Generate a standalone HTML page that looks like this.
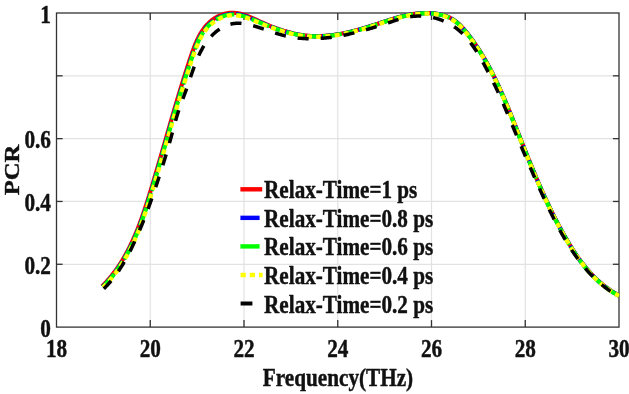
<!DOCTYPE html>
<html><head><meta charset="utf-8"><style>
html,body{margin:0;padding:0;background:#fff;}
body{width:629px;height:394px;overflow:hidden;}
svg{display:block;will-change:transform;}
text{font-family:"Liberation Serif",serif;font-weight:bold;fill:#111;stroke:#111;stroke-width:0.45px;stroke-linejoin:round;}
</style></head><body>
<svg width="629" height="394" viewBox="0 0 629 394">
<rect width="629" height="394" fill="#fff"/>
<line x1="150.25" y1="13.0" x2="150.25" y2="327.1" stroke="#e2e2e2" stroke-width="1.2"/><line x1="244.00" y1="13.0" x2="244.00" y2="327.1" stroke="#e2e2e2" stroke-width="1.2"/><line x1="337.75" y1="13.0" x2="337.75" y2="327.1" stroke="#e2e2e2" stroke-width="1.2"/><line x1="431.50" y1="13.0" x2="431.50" y2="327.1" stroke="#e2e2e2" stroke-width="1.2"/><line x1="525.25" y1="13.0" x2="525.25" y2="327.1" stroke="#e2e2e2" stroke-width="1.2"/><line x1="56.5" y1="264.28" x2="619.0" y2="264.28" stroke="#e2e2e2" stroke-width="1.2"/><line x1="56.5" y1="201.46" x2="619.0" y2="201.46" stroke="#e2e2e2" stroke-width="1.2"/><line x1="56.5" y1="138.64" x2="619.0" y2="138.64" stroke="#e2e2e2" stroke-width="1.2"/><line x1="56.5" y1="75.82" x2="619.0" y2="75.82" stroke="#e2e2e2" stroke-width="1.2"/>
<line x1="240.4" y1="189.30" x2="262.2" y2="189.30" stroke="#ff0000" stroke-width="4.4"/><text transform="translate(264.10,198.30) scale(0.86,1)" text-anchor="start" font-size="24.6" fill="#000">Relax-Time=1 ps</text><line x1="240.4" y1="217.85" x2="259.6" y2="217.85" stroke="#0000ff" stroke-width="4.4"/><text transform="translate(264.10,226.85) scale(0.86,1)" text-anchor="start" font-size="24.6" fill="#000">Relax-Time=0.8 ps</text><line x1="240.4" y1="246.40" x2="259.6" y2="246.40" stroke="#00ff00" stroke-width="4.4"/><text transform="translate(264.10,255.40) scale(0.86,1)" text-anchor="start" font-size="24.6" fill="#000">Relax-Time=0.6 ps</text><line x1="240.6" y1="274.95" x2="262.6" y2="274.95" stroke="#ffff00" stroke-width="4.4" stroke-dasharray="5.2 4"/><text transform="translate(264.10,283.95) scale(0.86,1)" text-anchor="start" font-size="24.6" fill="#000">Relax-Time=0.4 ps</text><line x1="240.6" y1="303.50" x2="252.4" y2="303.50" stroke="#000000" stroke-width="4"/><text transform="translate(264.10,312.50) scale(0.86,1)" text-anchor="start" font-size="24.6" fill="#000">Relax-Time=0.2 ps</text>
<clipPath id="c"><rect x="56.5" y="0" width="563.1" height="327.1"/></clipPath>
<rect x="56.5" y="13.0" width="562.5" height="314.1" fill="none" stroke="#333" stroke-width="1.3"/><line x1="150.25" y1="327.1" x2="150.25" y2="320.1" stroke="#333" stroke-width="1.3"/><line x1="150.25" y1="13.0" x2="150.25" y2="20.0" stroke="#333" stroke-width="1.3"/><line x1="244.00" y1="327.1" x2="244.00" y2="320.1" stroke="#333" stroke-width="1.3"/><line x1="244.00" y1="13.0" x2="244.00" y2="20.0" stroke="#333" stroke-width="1.3"/><line x1="337.75" y1="327.1" x2="337.75" y2="320.1" stroke="#333" stroke-width="1.3"/><line x1="337.75" y1="13.0" x2="337.75" y2="20.0" stroke="#333" stroke-width="1.3"/><line x1="431.50" y1="327.1" x2="431.50" y2="320.1" stroke="#333" stroke-width="1.3"/><line x1="431.50" y1="13.0" x2="431.50" y2="20.0" stroke="#333" stroke-width="1.3"/><line x1="525.25" y1="327.1" x2="525.25" y2="320.1" stroke="#333" stroke-width="1.3"/><line x1="525.25" y1="13.0" x2="525.25" y2="20.0" stroke="#333" stroke-width="1.3"/><line x1="56.5" y1="264.28" x2="62.6" y2="264.28" stroke="#333" stroke-width="1.3"/><line x1="619.0" y1="264.28" x2="612.9" y2="264.28" stroke="#333" stroke-width="1.3"/><line x1="56.5" y1="201.46" x2="62.6" y2="201.46" stroke="#333" stroke-width="1.3"/><line x1="619.0" y1="201.46" x2="612.9" y2="201.46" stroke="#333" stroke-width="1.3"/><line x1="56.5" y1="138.64" x2="62.6" y2="138.64" stroke="#333" stroke-width="1.3"/><line x1="619.0" y1="138.64" x2="612.9" y2="138.64" stroke="#333" stroke-width="1.3"/><line x1="56.5" y1="75.82" x2="62.6" y2="75.82" stroke="#333" stroke-width="1.3"/><line x1="619.0" y1="75.82" x2="612.9" y2="75.82" stroke="#333" stroke-width="1.3"/>
<g clip-path="url(#c)">
<path d="M102.11,286.31 L102.99,285.42 L103.85,284.53 L104.71,283.64 L105.55,282.74 L106.38,281.83 L107.20,280.91 L108.02,279.99 L108.82,279.06 L109.61,278.12 L110.40,277.18 L111.17,276.23 L111.94,275.27 L112.69,274.31 L113.44,273.34 L114.18,272.37 L114.90,271.39 L115.62,270.40 L116.33,269.41 L117.04,268.41 L117.73,267.41 L118.42,266.40 L119.09,265.38 L119.76,264.36 L120.42,263.34 L121.08,262.30 L121.72,261.27 L122.36,260.23 L122.99,259.18 L123.61,258.13 L124.22,257.07 L124.83,256.01 L125.43,254.94 L126.02,253.87 L126.61,252.80 L127.19,251.72 L127.76,250.63 L128.33,249.54 L128.88,248.45 L129.44,247.35 L129.98,246.25 L130.52,245.15 L131.06,244.04 L131.58,242.93 L132.10,241.81 L132.62,240.69 L133.13,239.57 L133.63,238.44 L134.13,237.31 L134.63,236.18 L135.11,235.04 L135.60,233.90 L136.07,232.76 L136.55,231.61 L137.01,230.46 L137.48,229.31 L137.93,228.16 L138.39,227.00 L138.84,225.84 L139.28,224.68 L139.72,223.52 L140.16,222.35 L140.59,221.18 L141.02,220.01 L141.44,218.84 L141.86,217.66 L142.28,216.49 L142.69,215.31 L143.10,214.13 L143.51,212.95 L143.91,211.77 L144.31,210.58 L144.71,209.40 L145.10,208.21 L145.49,207.02 L145.88,205.83 L146.27,204.64 L146.65,203.45 L147.03,202.26 L147.41,201.07 L147.79,199.88 L148.16,198.68 L148.54,197.49 L148.91,196.30 L149.28,195.10 L149.64,193.91 L150.01,192.71 L150.37,191.52 L150.74,190.33 L151.10,189.13 L151.46,187.94 L151.82,186.74 L152.18,185.55 L152.54,184.36 L152.90,183.17 L153.25,181.97 L153.61,180.78 L153.96,179.59 L154.32,178.40 L154.67,177.21 L155.02,176.02 L155.38,174.83 L155.73,173.64 L156.08,172.45 L156.43,171.26 L156.78,170.08 L157.12,168.89 L157.47,167.70 L157.82,166.51 L158.17,165.33 L158.51,164.14 L158.86,162.95 L159.21,161.77 L159.55,160.58 L159.90,159.39 L160.24,158.21 L160.58,157.02 L160.93,155.84 L161.27,154.65 L161.61,153.47 L161.96,152.28 L162.30,151.10 L162.64,149.92 L162.99,148.73 L163.33,147.55 L163.67,146.36 L164.01,145.18 L164.35,144.00 L164.70,142.81 L165.04,141.63 L165.38,140.45 L165.72,139.26 L166.07,138.08 L166.41,136.90 L166.75,135.71 L167.09,134.53 L167.44,133.35 L167.78,132.16 L168.12,130.98 L168.47,129.80 L168.81,128.61 L169.15,127.43 L169.49,126.24 L169.83,125.06 L170.17,123.88 L170.52,122.69 L170.86,121.51 L171.20,120.32 L171.54,119.13 L171.89,117.95 L172.23,116.76 L172.58,115.58 L172.92,114.39 L173.27,113.21 L173.61,112.02 L173.96,110.83 L174.31,109.65 L174.66,108.46 L175.00,107.27 L175.35,106.09 L175.71,104.90 L176.06,103.71 L176.41,102.52 L176.76,101.34 L177.12,100.15 L177.47,98.96 L177.83,97.77 L178.18,96.58 L178.54,95.39 L178.90,94.20 L179.26,93.01 L179.62,91.82 L179.98,90.63 L180.35,89.43 L180.71,88.24 L181.08,87.05 L181.44,85.86 L181.81,84.66 L182.18,83.47 L182.55,82.28 L182.92,81.08 L183.30,79.89 L183.67,78.69 L184.05,77.49 L184.42,76.30 L184.80,75.10 L185.18,73.90 L185.56,72.70 L185.95,71.51 L186.33,70.31 L186.72,69.11 L187.10,67.91 L187.49,66.70 L187.88,65.50 L188.28,64.30 L188.67,63.10 L189.07,61.89 L189.46,60.69 L189.86,59.49 L190.26,58.28 L190.67,57.07 L191.07,55.87 L191.48,54.66 L191.89,53.45 L192.31,52.24 L192.74,51.04 L193.17,49.83 L193.61,48.63 L194.06,47.43 L194.51,46.24 L194.98,45.06 L195.47,43.88 L195.96,42.70 L196.47,41.54 L196.99,40.38 L197.53,39.23 L198.08,38.09 L198.66,36.97 L199.24,35.85 L199.85,34.74 L200.47,33.65 L201.12,32.57 L201.79,31.50 L202.48,30.45 L203.20,29.42 L203.95,28.40 L204.72,27.40 L205.52,26.42 L206.35,25.46 L207.21,24.52 L208.10,23.61 L209.02,22.71 L209.98,21.84 L210.95,21.00 L211.96,20.18 L212.99,19.40 L214.05,18.64 L215.15,17.96 L216.28,17.30 L217.42,16.69 L218.57,16.11 L219.75,15.58 L220.94,15.09 L222.14,14.64 L223.35,14.24 L224.57,13.88 L225.81,13.57 L227.05,13.32 L228.29,13.11 L229.54,12.96 L230.80,12.87 L232.05,12.83 L233.29,12.84 L234.53,12.90 L235.77,13.01 L237.00,13.16 L238.23,13.35 L239.46,13.58 L240.68,13.85 L241.89,14.17 L243.10,14.53 L244.30,14.91 L245.49,15.32 L246.69,15.75 L247.88,16.20 L249.06,16.67 L250.24,17.15 L251.42,17.65 L252.60,18.17 L253.77,18.69 L254.94,19.21 L256.11,19.75 L257.28,20.28 L258.44,20.82 L259.61,21.35 L260.77,21.88 L261.93,22.41 L263.09,22.93 L264.25,23.44 L265.41,23.96 L266.57,24.46 L267.73,24.96 L268.89,25.45 L270.05,25.94 L271.21,26.40 L272.38,26.85 L273.55,27.29 L274.72,27.73 L275.89,28.16 L277.06,28.58 L278.23,28.99 L279.40,29.39 L280.57,29.79 L281.74,30.17 L282.92,30.55 L284.09,30.92 L285.26,31.28 L286.44,31.62 L287.61,31.96 L288.79,32.29 L289.97,32.61 L291.15,32.91 L292.33,33.21 L293.51,33.49 L294.70,33.76 L295.88,34.02 L297.07,34.27 L298.26,34.51 L299.45,34.73 L300.64,34.93 L301.83,35.11 L303.03,35.28 L304.23,35.44 L305.43,35.58 L306.63,35.71 L307.84,35.82 L309.05,35.92 L310.26,36.00 L311.47,36.07 L312.68,36.12 L313.89,36.16 L315.11,36.18 L316.33,36.19 L317.55,36.19 L318.77,36.17 L319.99,36.14 L321.22,36.09 L322.44,36.04 L323.67,35.97 L324.90,35.88 L326.13,35.79 L327.36,35.68 L328.59,35.56 L329.82,35.43 L331.05,35.29 L332.29,35.14 L333.52,34.97 L334.75,34.80 L335.99,34.62 L337.22,34.42 L338.45,34.22 L339.69,34.00 L340.92,33.78 L342.15,33.55 L343.39,33.31 L344.62,33.06 L345.85,32.80 L347.08,32.53 L348.31,32.26 L349.54,31.97 L350.77,31.68 L352.00,31.39 L353.22,31.08 L354.45,30.77 L355.67,30.45 L356.90,30.13 L358.12,29.80 L359.34,29.46 L360.55,29.12 L361.77,28.77 L362.98,28.42 L364.19,28.06 L365.40,27.70 L366.61,27.34 L367.82,26.97 L369.02,26.59 L370.22,26.21 L371.42,25.83 L372.61,25.45 L373.81,25.06 L375.00,24.67 L376.19,24.28 L377.37,23.89 L378.56,23.50 L379.75,23.10 L380.93,22.71 L382.11,22.32 L383.30,21.93 L384.48,21.54 L385.66,21.16 L386.84,20.78 L388.02,20.40 L389.20,20.02 L390.38,19.65 L391.56,19.29 L392.74,18.93 L393.93,18.57 L395.11,18.23 L396.29,17.89 L397.48,17.55 L398.66,17.23 L399.85,16.91 L401.04,16.60 L402.23,16.30 L403.43,16.01 L404.62,15.73 L405.82,15.46 L407.02,15.21 L408.23,14.96 L409.43,14.73 L410.64,14.51 L411.85,14.30 L413.07,14.11 L414.29,13.93 L415.51,13.77 L416.74,13.62 L417.97,13.48 L419.20,13.37 L420.44,13.27 L421.69,13.19 L422.94,13.12 L424.19,13.07 L425.45,13.05 L426.71,13.04 L427.98,13.05 L429.24,13.08 L430.51,13.14 L431.78,13.21 L433.05,13.32 L434.31,13.44 L435.57,13.59 L436.82,13.77 L438.07,13.97 L439.30,14.21 L440.53,14.47 L441.75,14.76 L442.95,15.08 L444.14,15.43 L445.32,15.82 L446.47,16.24 L447.61,16.69 L448.73,17.18 L449.83,17.70 L450.91,18.26 L451.97,18.86 L453.00,19.49 L454.01,20.16 L455.00,20.86 L455.97,21.58 L456.92,22.34 L457.85,23.13 L458.76,23.94 L459.66,24.77 L460.54,25.62 L461.40,26.50 L462.25,27.39 L463.08,28.31 L463.91,29.23 L464.72,30.17 L465.52,31.12 L466.31,32.09 L467.09,33.06 L467.86,34.04 L468.62,35.02 L469.38,36.01 L470.13,37.00 L470.87,38.00 L471.61,39.00 L472.34,40.00 L473.06,41.01 L473.78,42.02 L474.49,43.03 L475.20,44.05 L475.90,45.08 L476.59,46.10 L477.28,47.13 L477.96,48.17 L478.63,49.20 L479.30,50.25 L479.97,51.29 L480.62,52.34 L481.28,53.39 L481.92,54.44 L482.57,55.50 L483.20,56.56 L483.83,57.62 L484.46,58.69 L485.08,59.76 L485.70,60.83 L486.31,61.91 L486.91,62.98 L487.52,64.06 L488.11,65.15 L488.71,66.23 L489.29,67.32 L489.88,68.42 L490.46,69.51 L491.03,70.61 L491.60,71.71 L492.17,72.81 L492.73,73.91 L493.29,75.02 L493.84,76.13 L494.39,77.24 L494.94,78.35 L495.48,79.46 L496.02,80.58 L496.56,81.70 L497.09,82.82 L497.62,83.94 L498.15,85.07 L498.67,86.19 L499.19,87.32 L499.71,88.45 L500.22,89.58 L500.73,90.72 L501.24,91.85 L501.75,92.99 L502.25,94.13 L502.75,95.26 L503.25,96.40 L503.74,97.55 L504.24,98.69 L504.73,99.83 L505.22,100.98 L505.70,102.13 L506.19,103.27 L506.67,104.42 L507.15,105.57 L507.63,106.72 L508.10,107.87 L508.58,109.03 L509.05,110.18 L509.52,111.33 L509.99,112.49 L510.46,113.64 L510.93,114.80 L511.40,115.95 L511.86,117.11 L512.33,118.27 L512.79,119.42 L513.26,120.58 L513.72,121.74 L514.18,122.90 L514.64,124.05 L515.10,125.21 L515.56,126.37 L516.02,127.53 L516.48,128.69 L516.93,129.85 L517.39,131.00 L517.85,132.16 L518.31,133.32 L518.77,134.48 L519.22,135.63 L519.68,136.79 L520.14,137.95 L520.60,139.11 L521.06,140.26 L521.51,141.42 L521.97,142.57 L522.43,143.73 L522.89,144.89 L523.35,146.04 L523.81,147.20 L524.27,148.35 L524.73,149.50 L525.19,150.66 L525.65,151.81 L526.11,152.96 L526.58,154.12 L527.04,155.27 L527.50,156.42 L527.97,157.57 L528.43,158.72 L528.90,159.87 L529.37,161.02 L529.84,162.17 L530.31,163.32 L530.78,164.47 L531.25,165.61 L531.72,166.76 L532.19,167.91 L532.67,169.05 L533.14,170.20 L533.62,171.34 L534.09,172.48 L534.57,173.63 L535.05,174.77 L535.54,175.91 L536.02,177.05 L536.50,178.19 L536.99,179.33 L537.48,180.47 L537.97,181.61 L538.46,182.74 L538.95,183.88 L539.44,185.01 L539.94,186.15 L540.44,187.28 L540.94,188.41 L541.44,189.55 L541.94,190.68 L542.44,191.81 L542.95,192.94 L543.46,194.06 L543.97,195.19 L544.48,196.32 L545.00,197.44 L545.51,198.57 L546.03,199.69 L546.55,200.81 L547.08,201.93 L547.60,203.05 L548.13,204.17 L548.66,205.29 L549.20,206.41 L549.73,207.52 L550.27,208.64 L550.81,209.75 L551.35,210.86 L551.90,211.97 L552.45,213.08 L553.00,214.19 L553.55,215.30 L554.11,216.41 L554.67,217.51 L555.23,218.62 L555.79,219.72 L556.36,220.82 L556.93,221.92 L557.51,223.02 L558.08,224.12 L558.66,225.21 L559.25,226.31 L559.83,227.40 L560.42,228.49 L561.01,229.58 L561.61,230.67 L562.21,231.76 L562.81,232.84 L563.42,233.93 L564.03,235.01 L564.64,236.09 L565.26,237.17 L565.88,238.25 L566.50,239.33 L567.13,240.40 L567.76,241.47 L568.40,242.54 L569.04,243.61 L569.68,244.67 L570.33,245.73 L570.99,246.79 L571.65,247.84 L572.31,248.89 L572.98,249.94 L573.65,250.98 L574.33,252.02 L575.02,253.05 L575.71,254.08 L576.41,255.11 L577.11,256.13 L577.82,257.14 L578.53,258.15 L579.26,259.16 L579.98,260.15 L580.72,261.15 L581.46,262.14 L582.21,263.12 L582.96,264.09 L583.72,265.06 L584.49,266.03 L585.27,266.98 L586.05,267.93 L586.84,268.88 L587.64,269.81 L588.45,270.74 L589.26,271.66 L590.08,272.57 L590.91,273.48 L591.75,274.38 L592.60,275.27 L593.46,276.15 L594.32,277.02 L595.19,277.88 L596.08,278.74 L596.97,279.58 L597.87,280.42 L598.78,281.25 L599.70,282.07 L600.63,282.87 L601.57,283.67 L602.52,284.46 L603.48,285.24 L604.44,286.01 L605.42,286.76 L606.41,287.51 L607.41,288.24 L608.42,288.97 L609.44,289.68 L610.48,290.38 L611.52,291.08 L612.57,291.75 L613.64,292.42 L614.72,293.08 L615.81,293.72 L616.91,294.35 L618.02,294.97 L619.14,295.57" fill="none" stroke="#ff0000" stroke-width="4.2" stroke-linejoin="round"/>
<path d="M102.61,286.80 L103.49,285.92 L104.36,285.02 L105.22,284.12 L106.07,283.21 L106.90,282.30 L107.73,281.38 L108.55,280.45 L109.36,279.52 L110.15,278.58 L110.94,277.63 L111.72,276.67 L112.49,275.71 L113.25,274.75 L114.00,273.77 L114.74,272.79 L115.47,271.81 L116.20,270.82 L116.91,269.82 L117.62,268.82 L118.31,267.81 L119.00,266.79 L119.68,265.77 L120.36,264.75 L121.02,263.72 L121.68,262.68 L122.32,261.64 L122.96,260.59 L123.60,259.54 L124.22,258.49 L124.84,257.43 L125.45,256.36 L126.05,255.29 L126.65,254.22 L127.24,253.14 L127.82,252.05 L128.39,250.96 L128.96,249.87 L129.52,248.77 L130.07,247.67 L130.62,246.57 L131.16,245.46 L131.70,244.35 L132.23,243.23 L132.75,242.11 L133.27,240.99 L133.78,239.86 L134.29,238.73 L134.79,237.60 L135.28,236.46 L135.77,235.32 L136.26,234.18 L136.73,233.03 L137.21,231.88 L137.68,230.73 L138.14,229.58 L138.60,228.42 L139.05,227.26 L139.50,226.10 L139.95,224.93 L140.39,223.77 L140.83,222.60 L141.26,221.43 L141.69,220.26 L142.12,219.08 L142.54,217.90 L142.96,216.73 L143.37,215.55 L143.78,214.36 L144.19,213.18 L144.59,212.00 L144.99,210.81 L145.39,209.62 L145.78,208.44 L146.18,207.25 L146.57,206.06 L146.95,204.87 L147.34,203.67 L147.72,202.48 L148.10,201.29 L148.48,200.09 L148.85,198.90 L149.22,197.71 L149.60,196.51 L149.97,195.32 L150.33,194.12 L150.70,192.93 L151.07,191.73 L151.43,190.54 L151.79,189.34 L152.15,188.15 L152.51,186.95 L152.87,185.76 L153.23,184.57 L153.59,183.37 L153.95,182.18 L154.30,180.99 L154.66,179.80 L155.01,178.61 L155.36,177.42 L155.72,176.23 L156.07,175.04 L156.42,173.85 L156.77,172.66 L157.12,171.47 L157.47,170.28 L157.82,169.09 L158.17,167.90 L158.52,166.72 L158.86,165.53 L159.21,164.34 L159.56,163.16 L159.90,161.97 L160.25,160.78 L160.59,159.60 L160.94,158.41 L161.28,157.23 L161.63,156.04 L161.97,154.86 L162.31,153.67 L162.66,152.49 L163.00,151.30 L163.34,150.12 L163.68,148.93 L164.03,147.75 L164.37,146.57 L164.71,145.38 L165.05,144.20 L165.40,143.02 L165.74,141.83 L166.08,140.65 L166.42,139.47 L166.77,138.28 L167.11,137.10 L167.45,135.92 L167.79,134.73 L168.14,133.55 L168.48,132.37 L168.82,131.18 L169.17,130.00 L169.51,128.82 L169.85,127.63 L170.20,126.45 L170.54,125.27 L170.89,124.08 L171.23,122.90 L171.58,121.72 L171.93,120.53 L172.27,119.35 L172.62,118.17 L172.97,116.98 L173.32,115.80 L173.67,114.61 L174.02,113.43 L174.37,112.24 L174.72,111.06 L175.07,109.87 L175.42,108.69 L175.78,107.50 L176.13,106.32 L176.49,105.13 L176.84,103.95 L177.20,102.76 L177.55,101.57 L177.91,100.39 L178.27,99.20 L178.63,98.01 L178.99,96.83 L179.36,95.64 L179.72,94.45 L180.08,93.26 L180.45,92.07 L180.81,90.88 L181.18,89.69 L181.55,88.50 L181.92,87.31 L182.29,86.12 L182.66,84.93 L183.04,83.74 L183.41,82.55 L183.79,81.35 L184.16,80.16 L184.54,78.97 L184.92,77.77 L185.30,76.58 L185.69,75.38 L186.07,74.19 L186.46,72.99 L186.84,71.80 L187.23,70.60 L187.62,69.40 L188.01,68.20 L188.41,67.01 L188.80,65.81 L189.20,64.61 L189.60,63.41 L190.00,62.21 L190.40,61.00 L190.80,59.80 L191.21,58.60 L191.62,57.40 L192.02,56.19 L192.44,54.99 L192.85,53.78 L193.28,52.58 L193.70,51.38 L194.14,50.19 L194.58,49.00 L195.03,47.81 L195.49,46.63 L195.96,45.45 L196.44,44.29 L196.94,43.13 L197.45,41.98 L197.97,40.84 L198.51,39.71 L199.06,38.59 L199.63,37.48 L200.22,36.39 L200.82,35.30 L201.45,34.24 L202.09,33.19 L202.76,32.15 L203.45,31.13 L204.17,30.13 L204.91,29.15 L205.67,28.19 L206.46,27.24 L207.28,26.32 L208.13,25.42 L209.01,24.54 L209.91,23.69 L210.85,22.86 L211.81,22.06 L212.79,21.29 L213.80,20.54 L214.84,19.83 L215.89,19.15 L216.97,18.51 L218.06,17.90 L219.17,17.33 L220.29,16.80 L221.43,16.30 L222.58,15.85 L223.74,15.45 L224.91,15.09 L226.09,14.77 L227.28,14.51 L228.48,14.29 L229.67,14.13 L230.87,14.02 L232.07,13.96 L233.27,13.95 L234.47,13.99 L235.67,14.08 L236.87,14.20 L238.07,14.37 L239.27,14.57 L240.47,14.82 L241.66,15.12 L242.85,15.44 L244.04,15.79 L245.22,16.17 L246.41,16.58 L247.59,17.00 L248.78,17.45 L249.96,17.91 L251.14,18.38 L252.32,18.87 L253.49,19.36 L254.67,19.87 L255.85,20.38 L257.02,20.89 L258.20,21.41 L259.37,21.92 L260.54,22.43 L261.71,22.93 L262.88,23.43 L264.05,23.93 L265.22,24.42 L266.39,24.90 L267.56,25.38 L268.73,25.85 L269.90,26.32 L271.08,26.77 L272.25,27.21 L273.42,27.64 L274.60,28.07 L275.77,28.49 L276.95,28.90 L278.12,29.30 L279.30,29.70 L280.48,30.09 L281.65,30.46 L282.83,30.83 L284.01,31.19 L285.19,31.54 L286.37,31.88 L287.55,32.21 L288.73,32.53 L289.91,32.83 L291.10,33.13 L292.28,33.42 L293.47,33.69 L294.65,33.95 L295.84,34.20 L297.03,34.44 L298.23,34.67 L299.42,34.88 L300.62,35.08 L301.81,35.26 L303.01,35.43 L304.21,35.59 L305.42,35.73 L306.62,35.86 L307.83,35.97 L309.04,36.07 L310.25,36.15 L311.46,36.22 L312.67,36.27 L313.89,36.31 L315.11,36.33 L316.33,36.34 L317.55,36.34 L318.77,36.32 L320.00,36.29 L321.23,36.24 L322.45,36.19 L323.68,36.11 L324.91,36.03 L326.14,35.94 L327.37,35.83 L328.61,35.71 L329.84,35.58 L331.07,35.44 L332.31,35.29 L333.54,35.12 L334.77,34.95 L336.01,34.77 L337.24,34.57 L338.48,34.37 L339.71,34.15 L340.95,33.93 L342.18,33.70 L343.42,33.45 L344.65,33.20 L345.88,32.95 L347.11,32.68 L348.35,32.40 L349.58,32.12 L350.81,31.83 L352.03,31.53 L353.26,31.23 L354.49,30.92 L355.71,30.60 L356.93,30.27 L358.16,29.94 L359.38,29.61 L360.59,29.27 L361.81,28.92 L363.02,28.57 L364.24,28.21 L365.45,27.85 L366.66,27.48 L367.86,27.11 L369.06,26.73 L370.26,26.36 L371.46,25.97 L372.66,25.59 L373.85,25.20 L375.04,24.81 L376.23,24.42 L377.42,24.03 L378.61,23.64 L379.79,23.25 L380.98,22.85 L382.16,22.46 L383.34,22.07 L384.52,21.69 L385.70,21.30 L386.88,20.92 L388.06,20.54 L389.24,20.17 L390.42,19.80 L391.61,19.43 L392.79,19.07 L393.97,18.72 L395.15,18.37 L396.33,18.03 L397.52,17.70 L398.70,17.37 L399.89,17.05 L401.08,16.75 L402.27,16.45 L403.46,16.16 L404.66,15.88 L405.85,15.61 L407.05,15.35 L408.26,15.11 L409.46,14.88 L410.67,14.66 L411.88,14.45 L413.09,14.26 L414.31,14.08 L415.53,13.91 L416.76,13.77 L417.98,13.63 L419.22,13.52 L420.45,13.42 L421.70,13.34 L422.94,13.27 L424.19,13.22 L425.45,13.20 L426.71,13.19 L427.97,13.20 L429.24,13.23 L430.51,13.29 L431.77,13.36 L433.03,13.46 L434.29,13.59 L435.55,13.74 L436.80,13.92 L438.04,14.12 L439.28,14.35 L440.50,14.61 L441.71,14.90 L442.91,15.22 L444.10,15.58 L445.27,15.96 L446.42,16.38 L447.56,16.83 L448.67,17.31 L449.77,17.84 L450.84,18.39 L451.89,18.99 L452.92,19.62 L453.93,20.28 L454.91,20.98 L455.88,21.70 L456.82,22.46 L457.75,23.24 L458.66,24.05 L459.55,24.88 L460.43,25.73 L461.29,26.60 L462.14,27.50 L462.97,28.41 L463.79,29.33 L464.60,30.27 L465.40,31.22 L466.19,32.18 L466.97,33.15 L467.74,34.13 L468.50,35.11 L469.26,36.10 L470.01,37.09 L470.75,38.09 L471.49,39.08 L472.22,40.09 L472.94,41.09 L473.66,42.11 L474.37,43.12 L475.07,44.14 L475.77,45.16 L476.47,46.19 L477.15,47.22 L477.83,48.25 L478.51,49.29 L479.18,50.33 L479.84,51.37 L480.50,52.42 L481.15,53.47 L481.80,54.52 L482.44,55.58 L483.07,56.64 L483.70,57.70 L484.33,58.76 L484.95,59.83 L485.57,60.91 L486.18,61.98 L486.78,63.06 L487.38,64.14 L487.98,65.22 L488.57,66.31 L489.16,67.39 L489.74,68.49 L490.32,69.58 L490.90,70.68 L491.47,71.77 L492.03,72.88 L492.60,73.98 L493.16,75.08 L493.71,76.19 L494.26,77.30 L494.81,78.41 L495.35,79.53 L495.89,80.65 L496.43,81.76 L496.96,82.88 L497.49,84.01 L498.01,85.13 L498.54,86.26 L499.06,87.38 L499.57,88.51 L500.09,89.65 L500.60,90.78 L501.11,91.91 L501.61,93.05 L502.11,94.19 L502.61,95.32 L503.11,96.46 L503.61,97.61 L504.10,98.75 L504.59,99.89 L505.08,101.04 L505.56,102.18 L506.05,103.33 L506.53,104.48 L507.01,105.63 L507.49,106.78 L507.96,107.93 L508.44,109.08 L508.91,110.23 L509.39,111.39 L509.86,112.54 L510.33,113.70 L510.79,114.85 L511.26,116.01 L511.73,117.16 L512.19,118.32 L512.65,119.48 L513.12,120.64 L513.58,121.79 L514.04,122.95 L514.50,124.11 L514.96,125.27 L515.42,126.43 L515.88,127.58 L516.34,128.74 L516.79,129.90 L517.25,131.06 L517.71,132.22 L518.17,133.37 L518.63,134.53 L519.08,135.69 L519.54,136.85 L520.00,138.00 L520.46,139.16 L520.92,140.32 L521.37,141.47 L521.83,142.63 L522.29,143.79 L522.75,144.94 L523.21,146.10 L523.67,147.25 L524.13,148.41 L524.59,149.56 L525.05,150.71 L525.51,151.87 L525.97,153.02 L526.44,154.17 L526.90,155.32 L527.37,156.48 L527.83,157.63 L528.30,158.78 L528.76,159.93 L529.23,161.08 L529.70,162.23 L530.17,163.37 L530.64,164.52 L531.11,165.67 L531.58,166.82 L532.05,167.96 L532.53,169.11 L533.00,170.25 L533.48,171.40 L533.96,172.54 L534.44,173.68 L534.92,174.83 L535.40,175.97 L535.88,177.11 L536.37,178.25 L536.85,179.39 L537.34,180.53 L537.83,181.66 L538.32,182.80 L538.81,183.94 L539.31,185.07 L539.80,186.21 L540.30,187.34 L540.80,188.48 L541.30,189.61 L541.80,190.74 L542.31,191.87 L542.81,193.00 L543.32,194.13 L543.83,195.25 L544.35,196.38 L544.86,197.51 L545.38,198.63 L545.90,199.75 L546.42,200.88 L546.94,202.00 L547.47,203.12 L548.00,204.24 L548.53,205.36 L549.06,206.47 L549.60,207.59 L550.13,208.70 L550.67,209.82 L551.22,210.93 L551.76,212.04 L552.31,213.15 L552.86,214.26 L553.42,215.37 L553.97,216.47 L554.53,217.58 L555.09,218.68 L555.66,219.79 L556.23,220.89 L556.80,221.99 L557.37,223.09 L557.95,224.19 L558.53,225.28 L559.11,226.38 L559.70,227.47 L560.29,228.56 L560.88,229.65 L561.48,230.74 L562.08,231.83 L562.68,232.92 L563.29,234.00 L563.90,235.08 L564.51,236.17 L565.13,237.25 L565.75,238.33 L566.37,239.40 L567.00,240.48 L567.63,241.55 L568.27,242.62 L568.91,243.68 L569.55,244.75 L570.20,245.81 L570.86,246.87 L571.52,247.92 L572.18,248.97 L572.85,250.02 L573.53,251.06 L574.21,252.10 L574.89,253.13 L575.59,254.16 L576.28,255.19 L576.99,256.21 L577.70,257.23 L578.41,258.24 L579.13,259.24 L579.86,260.24 L580.60,261.24 L581.34,262.23 L582.09,263.21 L582.84,264.19 L583.60,265.16 L584.37,266.12 L585.15,267.08 L585.94,268.03 L586.73,268.97 L587.53,269.91 L588.33,270.84 L589.15,271.76 L589.97,272.67 L590.80,273.58 L591.64,274.48 L592.49,275.37 L593.35,276.25 L594.22,277.13 L595.09,277.99 L595.97,278.85 L596.87,279.69 L597.77,280.53 L598.68,281.36 L599.60,282.18 L600.53,282.99 L601.47,283.79 L602.42,284.58 L603.38,285.35 L604.35,286.12 L605.33,286.88 L606.32,287.63 L607.32,288.37 L608.34,289.09 L609.36,289.81 L610.39,290.51 L611.44,291.20 L612.49,291.88 L613.56,292.55 L614.64,293.20 L615.73,293.85 L616.83,294.48 L617.95,295.10 L619.07,295.70" fill="none" stroke="#0000ff" stroke-width="4.2" stroke-linejoin="round" stroke-dasharray="19.0 2.55 12.93 2.55" stroke-dashoffset="2.13"/>
<path d="M102.83,287.02 L103.71,286.13 L104.58,285.23 L105.44,284.33 L106.29,283.42 L107.13,282.51 L107.96,281.58 L108.78,280.65 L109.59,279.72 L110.39,278.78 L111.18,277.83 L111.96,276.87 L112.73,275.91 L113.50,274.94 L114.25,273.96 L114.99,272.98 L115.73,272.00 L116.45,271.00 L117.17,270.00 L117.88,269.00 L118.58,267.99 L119.27,266.97 L119.95,265.95 L120.63,264.92 L121.29,263.89 L121.95,262.85 L122.60,261.81 L123.24,260.76 L123.88,259.71 L124.50,258.65 L125.12,257.59 L125.73,256.52 L126.34,255.45 L126.93,254.37 L127.52,253.29 L128.11,252.21 L128.68,251.12 L129.25,250.02 L129.81,248.92 L130.37,247.82 L130.92,246.71 L131.46,245.60 L132.00,244.49 L132.53,243.37 L133.05,242.25 L133.57,241.13 L134.09,240.00 L134.59,238.87 L135.09,237.73 L135.59,236.59 L136.08,235.45 L136.57,234.31 L137.05,233.16 L137.52,232.01 L137.99,230.86 L138.46,229.70 L138.92,228.54 L139.37,227.38 L139.82,226.22 L140.27,225.06 L140.71,223.89 L141.15,222.72 L141.58,221.55 L142.01,220.37 L142.44,219.20 L142.86,218.02 L143.28,216.84 L143.69,215.66 L144.10,214.48 L144.51,213.29 L144.92,212.11 L145.32,210.92 L145.72,209.73 L146.11,208.55 L146.51,207.36 L146.90,206.16 L147.28,204.97 L147.67,203.78 L148.05,202.59 L148.43,201.39 L148.81,200.20 L149.18,199.00 L149.56,197.81 L149.93,196.61 L150.30,195.42 L150.67,194.22 L151.04,193.03 L151.40,191.83 L151.77,190.64 L152.13,189.44 L152.49,188.25 L152.85,187.05 L153.21,185.86 L153.57,184.67 L153.93,183.47 L154.29,182.28 L154.64,181.09 L155.00,179.90 L155.35,178.71 L155.71,177.52 L156.06,176.33 L156.41,175.14 L156.76,173.95 L157.11,172.76 L157.46,171.57 L157.81,170.38 L158.16,169.19 L158.51,168.01 L158.86,166.82 L159.21,165.63 L159.56,164.44 L159.90,163.26 L160.25,162.07 L160.59,160.88 L160.94,159.70 L161.28,158.51 L161.63,157.33 L161.97,156.14 L162.32,154.96 L162.66,153.77 L163.00,152.59 L163.35,151.40 L163.69,150.22 L164.03,149.04 L164.38,147.85 L164.72,146.67 L165.06,145.48 L165.41,144.30 L165.75,143.12 L166.09,141.93 L166.43,140.75 L166.78,139.57 L167.12,138.38 L167.46,137.20 L167.80,136.02 L168.15,134.84 L168.49,133.65 L168.83,132.47 L169.18,131.29 L169.52,130.10 L169.87,128.92 L170.21,127.74 L170.55,126.55 L170.90,125.37 L171.25,124.19 L171.59,123.00 L171.94,121.82 L172.28,120.64 L172.63,119.45 L172.98,118.27 L173.33,117.09 L173.68,115.90 L174.03,114.72 L174.38,113.54 L174.73,112.35 L175.08,111.17 L175.43,109.98 L175.78,108.80 L176.14,107.61 L176.49,106.43 L176.85,105.24 L177.20,104.06 L177.56,102.87 L177.92,101.68 L178.28,100.50 L178.63,99.31 L178.99,98.12 L179.36,96.94 L179.72,95.75 L180.08,94.56 L180.45,93.37 L180.81,92.18 L181.18,90.99 L181.55,89.80 L181.91,88.62 L182.28,87.43 L182.65,86.23 L183.03,85.04 L183.40,83.85 L183.78,82.66 L184.15,81.47 L184.53,80.28 L184.91,79.08 L185.29,77.89 L185.67,76.70 L186.05,75.50 L186.44,74.31 L186.82,73.11 L187.21,71.92 L187.60,70.72 L187.99,69.52 L188.38,68.32 L188.78,67.13 L189.17,65.93 L189.57,64.73 L189.97,63.53 L190.37,62.33 L190.77,61.13 L191.17,59.93 L191.58,58.72 L191.99,57.52 L192.40,56.32 L192.81,55.12 L193.23,53.91 L193.65,52.71 L194.07,51.52 L194.51,50.32 L194.95,49.14 L195.40,47.95 L195.86,46.77 L196.33,45.60 L196.81,44.44 L197.30,43.29 L197.81,42.14 L198.33,41.01 L198.86,39.88 L199.42,38.77 L199.98,37.67 L200.57,36.58 L201.17,35.51 L201.80,34.45 L202.44,33.41 L203.11,32.38 L203.80,31.37 L204.51,30.38 L205.24,29.41 L206.00,28.46 L206.79,27.53 L207.60,26.62 L208.44,25.73 L209.32,24.86 L210.21,24.02 L211.14,23.21 L212.10,22.42 L213.07,21.66 L214.08,20.93 L215.10,20.23 L216.14,19.56 L217.21,18.93 L218.29,18.33 L219.38,17.77 L220.50,17.25 L221.62,16.78 L222.76,16.34 L223.90,15.94 L225.06,15.59 L226.22,15.29 L227.39,15.04 L228.56,14.83 L229.73,14.68 L230.91,14.57 L232.08,14.52 L233.26,14.52 L234.44,14.56 L235.62,14.65 L236.80,14.78 L237.98,14.95 L239.16,15.16 L240.34,15.40 L241.52,15.68 L242.70,15.99 L243.88,16.32 L245.06,16.68 L246.24,17.07 L247.43,17.47 L248.61,17.90 L249.79,18.34 L250.97,18.80 L252.15,19.27 L253.33,19.75 L254.51,20.24 L255.70,20.74 L256.88,21.24 L258.06,21.74 L259.23,22.24 L260.41,22.73 L261.59,23.22 L262.77,23.71 L263.95,24.19 L265.12,24.66 L266.30,25.13 L267.48,25.60 L268.65,26.05 L269.83,26.51 L271.01,26.95 L272.18,27.39 L273.36,27.82 L274.54,28.24 L275.71,28.66 L276.89,29.07 L278.07,29.47 L279.25,29.86 L280.43,30.24 L281.60,30.62 L282.78,30.98 L283.96,31.34 L285.15,31.68 L286.33,32.02 L287.51,32.34 L288.69,32.66 L289.88,32.96 L291.07,33.26 L292.25,33.54 L293.44,33.81 L294.63,34.07 L295.82,34.32 L297.01,34.55 L298.21,34.77 L299.40,34.98 L300.60,35.18 L301.80,35.36 L303.00,35.53 L304.20,35.69 L305.40,35.83 L306.61,35.96 L307.82,36.07 L309.03,36.17 L310.24,36.25 L311.45,36.32 L312.67,36.37 L313.89,36.41 L315.11,36.43 L316.33,36.44 L317.55,36.44 L318.78,36.42 L320.00,36.39 L321.23,36.34 L322.46,36.28 L323.69,36.21 L324.92,36.13 L326.15,36.04 L327.38,35.93 L328.62,35.81 L329.85,35.68 L331.08,35.54 L332.32,35.39 L333.55,35.22 L334.79,35.05 L336.02,34.86 L337.26,34.67 L338.50,34.46 L339.73,34.25 L340.97,34.03 L342.20,33.79 L343.44,33.55 L344.67,33.30 L345.90,33.04 L347.14,32.78 L348.37,32.50 L349.60,32.22 L350.83,31.93 L352.06,31.63 L353.29,31.32 L354.51,31.01 L355.74,30.70 L356.96,30.37 L358.18,30.04 L359.40,29.70 L360.62,29.36 L361.84,29.01 L363.05,28.66 L364.27,28.30 L365.48,27.94 L366.68,27.58 L367.89,27.20 L369.09,26.83 L370.30,26.45 L371.49,26.07 L372.69,25.68 L373.88,25.30 L375.08,24.91 L376.27,24.52 L377.45,24.13 L378.64,23.73 L379.82,23.34 L381.01,22.95 L382.19,22.56 L383.37,22.17 L384.55,21.78 L385.73,21.40 L386.92,21.02 L388.09,20.64 L389.27,20.26 L390.45,19.89 L391.63,19.53 L392.82,19.17 L394.00,18.81 L395.18,18.47 L396.36,18.13 L397.54,17.79 L398.73,17.47 L399.92,17.15 L401.10,16.84 L402.29,16.54 L403.49,16.25 L404.68,15.98 L405.88,15.71 L407.07,15.45 L408.27,15.21 L409.48,14.97 L410.68,14.75 L411.89,14.55 L413.11,14.36 L414.32,14.18 L415.54,14.01 L416.77,13.87 L417.99,13.73 L419.23,13.62 L420.46,13.52 L421.70,13.43 L422.95,13.37 L424.20,13.32 L425.45,13.30 L426.71,13.29 L427.97,13.30 L429.24,13.33 L430.50,13.39 L431.76,13.46 L433.03,13.56 L434.28,13.69 L435.54,13.84 L436.78,14.02 L438.02,14.22 L439.26,14.45 L440.48,14.71 L441.69,15.00 L442.88,15.32 L444.07,15.67 L445.23,16.05 L446.38,16.47 L447.52,16.92 L448.63,17.41 L449.72,17.93 L450.79,18.48 L451.84,19.07 L452.87,19.70 L453.87,20.36 L454.85,21.06 L455.82,21.78 L456.76,22.54 L457.68,23.32 L458.59,24.12 L459.48,24.95 L460.36,25.80 L461.22,26.67 L462.07,27.56 L462.90,28.47 L463.72,29.40 L464.53,30.33 L465.33,31.28 L466.11,32.24 L466.89,33.21 L467.66,34.19 L468.43,35.17 L469.18,36.16 L469.93,37.15 L470.67,38.14 L471.41,39.14 L472.14,40.15 L472.86,41.15 L473.58,42.16 L474.29,43.18 L474.99,44.20 L475.69,45.22 L476.38,46.24 L477.07,47.27 L477.75,48.30 L478.42,49.34 L479.09,50.38 L479.75,51.42 L480.41,52.47 L481.06,53.52 L481.71,54.57 L482.35,55.63 L482.99,56.69 L483.62,57.75 L484.24,58.81 L484.86,59.88 L485.48,60.95 L486.09,62.03 L486.70,63.11 L487.30,64.19 L487.89,65.27 L488.49,66.35 L489.07,67.44 L489.66,68.53 L490.23,69.63 L490.81,70.72 L491.38,71.82 L491.95,72.92 L492.51,74.02 L493.07,75.13 L493.62,76.24 L494.17,77.35 L494.72,78.46 L495.26,79.57 L495.80,80.69 L496.34,81.81 L496.87,82.93 L497.40,84.05 L497.92,85.17 L498.45,86.30 L498.97,87.43 L499.48,88.56 L500.00,89.69 L500.51,90.82 L501.01,91.95 L501.52,93.09 L502.02,94.23 L502.52,95.36 L503.02,96.50 L503.51,97.65 L504.01,98.79 L504.50,99.93 L504.99,101.08 L505.47,102.22 L505.96,103.37 L506.44,104.52 L506.92,105.67 L507.40,106.82 L507.87,107.97 L508.35,109.12 L508.82,110.27 L509.29,111.43 L509.76,112.58 L510.23,113.73 L510.70,114.89 L511.17,116.05 L511.63,117.20 L512.10,118.36 L512.56,119.52 L513.02,120.67 L513.48,121.83 L513.95,122.99 L514.41,124.15 L514.87,125.30 L515.33,126.46 L515.78,127.62 L516.24,128.78 L516.70,129.94 L517.16,131.10 L517.62,132.25 L518.08,133.41 L518.53,134.57 L518.99,135.73 L519.45,136.88 L519.91,138.04 L520.36,139.20 L520.82,140.35 L521.28,141.51 L521.74,142.67 L522.20,143.82 L522.66,144.98 L523.12,146.13 L523.58,147.29 L524.04,148.44 L524.50,149.60 L524.96,150.75 L525.42,151.90 L525.88,153.06 L526.34,154.21 L526.81,155.36 L527.27,156.51 L527.74,157.66 L528.20,158.81 L528.67,159.96 L529.14,161.11 L529.60,162.26 L530.07,163.41 L530.54,164.56 L531.01,165.71 L531.49,166.85 L531.96,168.00 L532.43,169.15 L532.91,170.29 L533.39,171.44 L533.86,172.58 L534.34,173.72 L534.82,174.87 L535.31,176.01 L535.79,177.15 L536.27,178.29 L536.76,179.43 L537.25,180.57 L537.74,181.70 L538.23,182.84 L538.72,183.98 L539.21,185.11 L539.71,186.25 L540.21,187.38 L540.71,188.52 L541.21,189.65 L541.71,190.78 L542.22,191.91 L542.72,193.04 L543.23,194.17 L543.74,195.29 L544.25,196.42 L544.77,197.55 L545.29,198.67 L545.81,199.80 L546.33,200.92 L546.85,202.04 L547.38,203.16 L547.91,204.28 L548.44,205.40 L548.97,206.52 L549.51,207.63 L550.04,208.75 L550.58,209.86 L551.13,210.97 L551.67,212.09 L552.22,213.20 L552.77,214.30 L553.33,215.41 L553.88,216.52 L554.44,217.63 L555.01,218.73 L555.57,219.83 L556.14,220.93 L556.71,222.03 L557.28,223.13 L557.86,224.23 L558.44,225.33 L559.03,226.42 L559.61,227.52 L560.20,228.61 L560.79,229.70 L561.39,230.79 L561.99,231.88 L562.59,232.97 L563.20,234.05 L563.81,235.13 L564.42,236.22 L565.04,237.30 L565.66,238.38 L566.28,239.45 L566.91,240.53 L567.54,241.60 L568.18,242.67 L568.82,243.74 L569.47,244.80 L570.12,245.86 L570.77,246.92 L571.43,247.97 L572.10,249.02 L572.77,250.07 L573.44,251.12 L574.13,252.15 L574.81,253.19 L575.50,254.22 L576.20,255.25 L576.91,256.27 L577.61,257.28 L578.33,258.30 L579.05,259.30 L579.78,260.30 L580.52,261.30 L581.26,262.29 L582.01,263.27 L582.76,264.25 L583.53,265.22 L584.30,266.18 L585.07,267.14 L585.86,268.09 L586.65,269.04 L587.45,269.97 L588.26,270.90 L589.07,271.83 L589.90,272.74 L590.73,273.65 L591.57,274.55 L592.42,275.44 L593.28,276.32 L594.14,277.20 L595.02,278.06 L595.90,278.92 L596.80,279.77 L597.70,280.60 L598.61,281.43 L599.53,282.25 L600.47,283.06 L601.41,283.86 L602.36,284.65 L603.32,285.43 L604.29,286.20 L605.27,286.96 L606.26,287.71 L607.27,288.45 L608.28,289.17 L609.30,289.89 L610.34,290.59 L611.38,291.28 L612.44,291.97 L613.51,292.63 L614.59,293.29 L615.68,293.93 L616.78,294.57 L617.90,295.19 L619.02,295.79" fill="none" stroke="#00ff00" stroke-width="4.2" stroke-linejoin="round" stroke-dasharray="19.0 2.55 12.93 2.55" stroke-dashoffset="1.83"/>
<path d="M103.18,287.37 L104.07,286.48 L104.95,285.59 L105.81,284.68 L106.67,283.77 L107.51,282.85 L108.35,281.93 L109.17,281.00 L109.99,280.06 L110.79,279.11 L111.59,278.16 L112.37,277.20 L113.15,276.24 L113.91,275.26 L114.67,274.29 L115.42,273.30 L116.16,272.31 L116.89,271.32 L117.61,270.32 L118.32,269.31 L119.02,268.29 L119.72,267.28 L120.40,266.25 L121.08,265.22 L121.75,264.19 L122.41,263.15 L123.07,262.10 L123.71,261.05 L124.35,259.99 L124.98,258.93 L125.60,257.87 L126.22,256.80 L126.82,255.72 L127.42,254.64 L128.02,253.56 L128.60,252.47 L129.18,251.38 L129.75,250.28 L130.32,249.18 L130.88,248.08 L131.43,246.97 L131.98,245.85 L132.51,244.74 L133.05,243.62 L133.57,242.49 L134.10,241.37 L134.61,240.24 L135.12,239.10 L135.62,237.96 L136.12,236.82 L136.61,235.68 L137.10,234.53 L137.58,233.38 L138.06,232.23 L138.53,231.08 L139.00,229.92 L139.46,228.76 L139.92,227.60 L140.37,226.43 L140.82,225.27 L141.26,224.10 L141.70,222.92 L142.14,221.75 L142.57,220.58 L143.00,219.40 L143.42,218.22 L143.84,217.04 L144.26,215.86 L144.67,214.67 L145.08,213.49 L145.49,212.30 L145.89,211.11 L146.29,209.92 L146.69,208.73 L147.08,207.54 L147.47,206.35 L147.86,205.16 L148.24,203.97 L148.63,202.77 L149.01,201.58 L149.39,200.38 L149.77,199.19 L150.14,197.99 L150.51,196.80 L150.88,195.60 L151.25,194.40 L151.62,193.21 L151.99,192.01 L152.35,190.82 L152.72,189.62 L153.08,188.43 L153.44,187.23 L153.80,186.04 L154.16,184.85 L154.52,183.65 L154.88,182.46 L155.24,181.27 L155.59,180.08 L155.95,178.89 L156.30,177.69 L156.66,176.50 L157.01,175.31 L157.36,174.12 L157.72,172.94 L158.07,171.75 L158.42,170.56 L158.77,169.37 L159.12,168.18 L159.47,167.00 L159.81,165.81 L160.16,164.62 L160.51,163.43 L160.86,162.25 L161.20,161.06 L161.55,159.88 L161.90,158.69 L162.24,157.51 L162.59,156.32 L162.93,155.14 L163.28,153.95 L163.62,152.77 L163.96,151.58 L164.31,150.40 L164.65,149.21 L164.99,148.03 L165.34,146.85 L165.68,145.66 L166.03,144.48 L166.37,143.30 L166.71,142.11 L167.05,140.93 L167.40,139.75 L167.74,138.57 L168.09,137.38 L168.43,136.20 L168.77,135.02 L169.12,133.83 L169.46,132.65 L169.81,131.47 L170.15,130.29 L170.49,129.10 L170.84,127.92 L171.19,126.74 L171.53,125.56 L171.88,124.37 L172.22,123.19 L172.57,122.01 L172.92,120.82 L173.27,119.64 L173.62,118.46 L173.96,117.27 L174.31,116.09 L174.66,114.91 L175.01,113.72 L175.37,112.54 L175.72,111.36 L176.07,110.17 L176.42,108.99 L176.78,107.80 L177.13,106.62 L177.49,105.43 L177.85,104.25 L178.20,103.06 L178.56,101.88 L178.92,100.69 L179.28,99.51 L179.64,98.32 L180.00,97.13 L180.37,95.95 L180.73,94.76 L181.09,93.57 L181.46,92.38 L181.83,91.19 L182.20,90.01 L182.57,88.82 L182.94,87.63 L183.31,86.44 L183.68,85.25 L184.05,84.06 L184.43,82.87 L184.81,81.68 L185.19,80.48 L185.56,79.29 L185.95,78.10 L186.33,76.91 L186.71,75.71 L187.10,74.52 L187.48,73.32 L187.87,72.13 L188.26,70.93 L188.65,69.74 L189.04,68.54 L189.44,67.34 L189.83,66.15 L190.23,64.95 L190.63,63.75 L191.03,62.55 L191.44,61.35 L191.85,60.15 L192.25,58.95 L192.66,57.75 L193.08,56.55 L193.49,55.35 L193.91,54.15 L194.33,52.96 L194.76,51.77 L195.20,50.58 L195.64,49.40 L196.09,48.22 L196.55,47.05 L197.02,45.89 L197.50,44.73 L198.00,43.59 L198.50,42.45 L199.02,41.33 L199.56,40.22 L200.11,39.12 L200.67,38.03 L201.26,36.96 L201.86,35.90 L202.48,34.86 L203.12,33.83 L203.78,32.83 L204.46,31.84 L205.16,30.87 L205.89,29.91 L206.64,28.98 L207.42,28.07 L208.22,27.19 L209.05,26.32 L209.91,25.48 L210.79,24.66 L211.71,23.87 L212.64,23.10 L213.61,22.36 L214.59,21.66 L215.59,20.98 L216.61,20.32 L217.65,19.70 L218.70,19.11 L219.76,18.55 L220.84,18.04 L221.94,17.56 L223.04,17.12 L224.16,16.73 L225.28,16.38 L226.41,16.08 L227.54,15.82 L228.68,15.61 L229.82,15.45 L230.96,15.34 L232.10,15.28 L233.25,15.27 L234.40,15.31 L235.55,15.38 L236.71,15.50 L237.86,15.66 L239.02,15.85 L240.19,16.08 L241.35,16.34 L242.52,16.63 L243.69,16.96 L244.87,17.30 L246.04,17.67 L247.22,18.06 L248.40,18.48 L249.57,18.91 L250.75,19.35 L251.94,19.81 L253.12,20.28 L254.30,20.76 L255.48,21.24 L256.67,21.73 L257.85,22.22 L259.04,22.70 L260.22,23.19 L261.41,23.67 L262.59,24.14 L263.77,24.61 L264.96,25.08 L266.14,25.54 L267.32,25.99 L268.50,26.44 L269.69,26.88 L270.87,27.33 L272.04,27.76 L273.22,28.20 L274.40,28.62 L275.58,29.04 L276.76,29.45 L277.94,29.85 L279.12,30.24 L280.30,30.62 L281.48,31.00 L282.67,31.36 L283.85,31.72 L285.03,32.07 L286.22,32.40 L287.41,32.73 L288.59,33.05 L289.78,33.35 L290.97,33.65 L292.16,33.93 L293.35,34.20 L294.55,34.46 L295.74,34.71 L296.94,34.94 L298.14,35.17 L299.34,35.38 L300.54,35.57 L301.74,35.76 L302.94,35.93 L304.15,36.08 L305.36,36.23 L306.57,36.35 L307.78,36.47 L309.00,36.56 L310.21,36.65 L311.43,36.72 L312.65,36.77 L313.88,36.81 L315.10,36.83 L316.33,36.84 L317.56,36.84 L318.78,36.82 L320.01,36.79 L321.25,36.74 L322.48,36.68 L323.71,36.61 L324.95,36.53 L326.18,36.44 L327.42,36.33 L328.66,36.21 L329.89,36.08 L331.13,35.94 L332.37,35.78 L333.61,35.62 L334.85,35.44 L336.08,35.26 L337.32,35.06 L338.56,34.86 L339.80,34.64 L341.04,34.42 L342.28,34.19 L343.51,33.94 L344.75,33.69 L345.99,33.43 L347.22,33.17 L348.46,32.89 L349.69,32.61 L350.92,32.32 L352.15,32.02 L353.38,31.71 L354.61,31.40 L355.84,31.08 L357.06,30.76 L358.29,30.43 L359.51,30.09 L360.73,29.75 L361.95,29.40 L363.17,29.05 L364.38,28.69 L365.59,28.33 L366.80,27.96 L368.01,27.59 L369.21,27.21 L370.42,26.83 L371.62,26.45 L372.81,26.07 L374.01,25.68 L375.20,25.29 L376.39,24.90 L377.58,24.51 L378.77,24.11 L379.95,23.72 L381.13,23.33 L382.32,22.94 L383.50,22.55 L384.68,22.16 L385.86,21.78 L387.04,21.40 L388.22,21.02 L389.40,20.64 L390.57,20.27 L391.75,19.91 L392.93,19.55 L394.11,19.20 L395.29,18.85 L396.47,18.51 L397.65,18.18 L398.83,17.85 L400.02,17.54 L401.20,17.23 L402.39,16.93 L403.58,16.64 L404.77,16.37 L405.96,16.10 L407.16,15.84 L408.35,15.60 L409.55,15.37 L410.75,15.15 L411.96,14.94 L413.17,14.75 L414.38,14.57 L415.59,14.41 L416.81,14.26 L418.03,14.13 L419.26,14.02 L420.49,13.92 L421.73,13.83 L422.96,13.77 L424.21,13.72 L425.46,13.70 L426.71,13.69 L427.96,13.70 L429.22,13.73 L430.48,13.79 L431.74,13.86 L432.99,13.96 L434.24,14.09 L435.49,14.24 L436.72,14.41 L437.96,14.61 L439.18,14.84 L440.39,15.10 L441.59,15.39 L442.78,15.71 L443.95,16.05 L445.10,16.43 L446.24,16.84 L447.36,17.29 L448.46,17.77 L449.54,18.28 L450.60,18.83 L451.64,19.42 L452.65,20.04 L453.64,20.69 L454.62,21.38 L455.57,22.10 L456.51,22.84 L457.42,23.62 L458.32,24.42 L459.21,25.24 L460.08,26.08 L460.94,26.95 L461.78,27.83 L462.62,28.73 L463.44,29.64 L464.25,30.57 L465.05,31.51 L465.84,32.47 L466.62,33.43 L467.39,34.40 L468.16,35.38 L468.92,36.36 L469.67,37.35 L470.42,38.34 L471.16,39.33 L471.89,40.33 L472.61,41.33 L473.33,42.34 L474.05,43.34 L474.76,44.36 L475.46,45.38 L476.15,46.40 L476.84,47.42 L477.53,48.45 L478.20,49.48 L478.88,50.52 L479.54,51.56 L480.20,52.60 L480.86,53.65 L481.51,54.70 L482.15,55.75 L482.79,56.80 L483.43,57.86 L484.06,58.92 L484.68,59.99 L485.30,61.06 L485.91,62.13 L486.52,63.20 L487.13,64.28 L487.73,65.36 L488.32,66.44 L488.91,67.53 L489.50,68.62 L490.08,69.71 L490.66,70.80 L491.23,71.90 L491.80,72.99 L492.37,74.09 L492.93,75.20 L493.49,76.30 L494.04,77.41 L494.59,78.52 L495.14,79.63 L495.68,80.75 L496.22,81.86 L496.76,82.98 L497.29,84.10 L497.82,85.22 L498.34,86.35 L498.87,87.47 L499.39,88.60 L499.90,89.73 L500.41,90.86 L500.92,91.99 L501.43,93.13 L501.93,94.27 L502.43,95.40 L502.93,96.54 L503.42,97.69 L503.91,98.83 L504.41,99.97 L504.89,101.12 L505.38,102.26 L505.86,103.41 L506.35,104.56 L506.83,105.71 L507.30,106.86 L507.78,108.01 L508.26,109.16 L508.73,110.31 L509.20,111.46 L509.67,112.62 L510.14,113.77 L510.61,114.93 L511.07,116.08 L511.54,117.24 L512.00,118.40 L512.47,119.55 L512.93,120.71 L513.39,121.87 L513.85,123.03 L514.31,124.18 L514.77,125.34 L515.23,126.50 L515.69,127.66 L516.15,128.82 L516.61,129.97 L517.07,131.13 L517.52,132.29 L517.98,133.45 L518.44,134.61 L518.90,135.76 L519.36,136.92 L519.81,138.08 L520.27,139.23 L520.73,140.39 L521.19,141.55 L521.65,142.70 L522.11,143.86 L522.56,145.02 L523.02,146.17 L523.48,147.33 L523.94,148.48 L524.40,149.63 L524.87,150.79 L525.33,151.94 L525.79,153.09 L526.25,154.25 L526.72,155.40 L527.18,156.55 L527.64,157.70 L528.11,158.85 L528.58,160.00 L529.04,161.15 L529.51,162.30 L529.98,163.45 L530.45,164.60 L530.92,165.75 L531.39,166.89 L531.87,168.04 L532.34,169.18 L532.82,170.33 L533.29,171.47 L533.77,172.62 L534.25,173.76 L534.73,174.90 L535.21,176.05 L535.70,177.19 L536.18,178.33 L536.67,179.47 L537.16,180.61 L537.64,181.74 L538.14,182.88 L538.63,184.02 L539.12,185.15 L539.62,186.29 L540.12,187.42 L540.61,188.56 L541.12,189.69 L541.62,190.82 L542.12,191.95 L542.63,193.08 L543.14,194.21 L543.65,195.34 L544.16,196.46 L544.68,197.59 L545.20,198.71 L545.72,199.84 L546.24,200.96 L546.76,202.08 L547.29,203.20 L547.82,204.32 L548.35,205.44 L548.88,206.56 L549.42,207.68 L549.95,208.79 L550.49,209.90 L551.04,211.02 L551.58,212.13 L552.13,213.24 L552.68,214.35 L553.24,215.46 L553.79,216.56 L554.35,217.67 L554.92,218.78 L555.48,219.88 L556.05,220.98 L556.62,222.08 L557.20,223.18 L557.77,224.28 L558.35,225.38 L558.94,226.47 L559.52,227.56 L560.11,228.66 L560.71,229.75 L561.30,230.84 L561.90,231.93 L562.51,233.01 L563.11,234.10 L563.72,235.18 L564.34,236.27 L564.95,237.35 L565.57,238.43 L566.20,239.50 L566.83,240.58 L567.46,241.65 L568.10,242.72 L568.74,243.79 L569.38,244.85 L570.03,245.91 L570.69,246.97 L571.35,248.03 L572.01,249.08 L572.68,250.13 L573.36,251.17 L574.04,252.21 L574.73,253.24 L575.42,254.28 L576.12,255.30 L576.82,256.32 L577.53,257.34 L578.25,258.35 L578.97,259.36 L579.70,260.36 L580.44,261.36 L581.18,262.35 L581.93,263.33 L582.68,264.31 L583.45,265.28 L584.22,266.25 L585.00,267.21 L585.78,268.16 L586.57,269.10 L587.37,270.04 L588.18,270.97 L589.00,271.89 L589.82,272.81 L590.66,273.72 L591.50,274.62 L592.35,275.51 L593.21,276.39 L594.07,277.27 L594.95,278.13 L595.84,278.99 L596.73,279.84 L597.63,280.68 L598.55,281.51 L599.47,282.33 L600.40,283.14 L601.34,283.94 L602.29,284.73 L603.26,285.51 L604.23,286.28 L605.21,287.04 L606.20,287.79 L607.21,288.53 L608.22,289.26 L609.25,289.97 L610.28,290.68 L611.33,291.37 L612.39,292.05 L613.46,292.72 L614.54,293.38 L615.63,294.02 L616.73,294.65 L617.85,295.27 L618.98,295.88" fill="none" stroke="#ffff00" stroke-width="4.2" stroke-dasharray="5 4.269" stroke-dashoffset="0.65"/>
<path d="M103.80,288.80 L104.68,287.93 L105.55,287.05 L106.40,286.16 L107.25,285.26 L108.08,284.36 L108.90,283.44 L109.71,282.52 L110.51,281.59 L111.30,280.66 L112.07,279.72 L112.84,278.76 L113.59,277.81 L114.34,276.84 L115.07,275.87 L115.80,274.89 L116.51,273.91 L117.22,272.92 L117.91,271.92 L118.60,270.92 L119.28,269.91 L119.94,268.90 L120.60,267.88 L121.26,266.85 L121.90,265.82 L122.53,264.79 L123.16,263.74 L123.78,262.70 L124.39,261.65 L125.00,260.60 L125.60,259.54 L126.19,258.48 L126.77,257.41 L127.35,256.34 L127.92,255.26 L128.49,254.19 L129.05,253.11 L129.60,252.02 L130.15,250.94 L130.70,249.85 L131.23,248.75 L131.77,247.66 L132.30,246.56 L132.82,245.46 L133.34,244.36 L133.86,243.26 L134.37,242.15 L134.88,241.04 L135.38,239.93 L135.88,238.82 L136.38,237.71 L136.87,236.60 L137.36,235.48 L137.85,234.37 L138.33,233.25 L138.81,232.13 L139.29,231.01 L139.77,229.89 L140.24,228.77 L140.71,227.64 L141.17,226.52 L141.63,225.39 L142.09,224.27 L142.55,223.14 L143.00,222.01 L143.45,220.88 L143.90,219.74 L144.34,218.61 L144.79,217.48 L145.23,216.34 L145.66,215.21 L146.10,214.07 L146.53,212.93 L146.96,211.79 L147.39,210.65 L147.82,209.51 L148.24,208.37 L148.66,207.23 L149.08,206.09 L149.49,204.94 L149.91,203.80 L150.32,202.65 L150.73,201.51 L151.14,200.36 L151.55,199.21 L151.95,198.07 L152.35,196.92 L152.76,195.77 L153.16,194.62 L153.55,193.47 L153.95,192.32 L154.34,191.17 L154.74,190.01 L155.13,188.86 L155.52,187.71 L155.91,186.56 L156.30,185.40 L156.68,184.25 L157.07,183.09 L157.45,181.94 L157.83,180.78 L158.21,179.63 L158.59,178.47 L158.97,177.32 L159.35,176.16 L159.72,175.00 L160.10,173.84 L160.47,172.69 L160.84,171.53 L161.21,170.37 L161.58,169.21 L161.94,168.05 L162.31,166.89 L162.67,165.72 L163.04,164.56 L163.40,163.40 L163.76,162.24 L164.12,161.07 L164.47,159.91 L164.83,158.74 L165.18,157.58 L165.54,156.41 L165.89,155.24 L166.24,154.08 L166.58,152.91 L166.93,151.74 L167.28,150.57 L167.62,149.40 L167.96,148.23 L168.30,147.06 L168.64,145.88 L168.98,144.71 L169.32,143.54 L169.65,142.36 L169.99,141.19 L170.32,140.01 L170.65,138.83 L170.98,137.66 L171.31,136.48 L171.63,135.30 L171.96,134.12 L172.28,132.94 L172.60,131.75 L172.93,130.57 L173.24,129.39 L173.56,128.21 L173.88,127.02 L174.20,125.84 L174.52,124.66 L174.85,123.48 L175.17,122.30 L175.50,121.13 L175.83,119.95 L176.16,118.78 L176.50,117.61 L176.84,116.45 L177.19,115.28 L177.54,114.13 L177.89,112.97 L178.26,111.82 L178.63,110.68 L179.00,109.54 L179.39,108.41 L179.78,107.28 L180.17,106.15 L180.57,105.03 L180.98,103.91 L181.39,102.79 L181.80,101.67 L182.21,100.56 L182.63,99.44 L183.05,98.33 L183.47,97.21 L183.89,96.09 L184.31,94.97 L184.73,93.85 L185.15,92.72 L185.57,91.59 L185.98,90.46 L186.39,89.32 L186.80,88.17 L187.21,87.02 L187.61,85.86 L188.01,84.70 L188.40,83.53 L188.80,82.37 L189.19,81.19 L189.59,80.02 L189.98,78.84 L190.38,77.66 L190.78,76.48 L191.18,75.30 L191.58,74.12 L191.98,72.94 L192.39,71.76 L192.80,70.58 L193.22,69.40 L193.64,68.22 L194.06,67.05 L194.50,65.88 L194.94,64.72 L195.38,63.55 L195.84,62.39 L196.30,61.24 L196.77,60.09 L197.25,58.95 L197.74,57.82 L198.24,56.69 L198.75,55.57 L199.27,54.46 L199.80,53.35 L200.35,52.26 L200.91,51.17 L201.48,50.09 L202.07,49.03 L202.67,47.97 L203.28,46.93 L203.91,45.90 L204.56,44.88 L205.22,43.87 L205.90,42.88 L206.60,41.90 L207.32,40.93 L208.06,39.98 L208.81,39.04 L209.58,38.12 L210.38,37.22 L211.19,36.33 L212.03,35.46 L212.89,34.61 L213.77,33.77 L214.66,32.96 L215.58,32.17 L216.52,31.41 L217.47,30.67 L218.44,29.96 L219.43,29.27 L220.43,28.62 L221.46,27.99 L222.49,27.40 L223.55,26.84 L224.61,26.32 L225.69,25.83 L226.79,25.38 L227.89,24.97 L229.01,24.60 L230.14,24.28 L231.29,23.99 L232.44,23.75 L233.60,23.56 L234.77,23.42 L235.96,23.32 L237.15,23.27 L238.34,23.26 L239.55,23.30 L240.76,23.37 L241.97,23.49 L243.19,23.63 L244.41,23.81 L245.63,24.01 L246.85,24.25 L248.07,24.50 L249.29,24.78 L250.50,25.07 L251.72,25.39 L252.93,25.71 L254.13,26.05 L255.33,26.40 L256.52,26.75 L257.71,27.12 L258.90,27.49 L260.08,27.87 L261.26,28.26 L262.44,28.65 L263.61,29.04 L264.78,29.44 L265.95,29.84 L267.12,30.24 L268.28,30.63 L269.45,31.03 L270.61,31.43 L271.77,31.82 L272.93,32.21 L274.10,32.60 L275.26,32.97 L276.42,33.35 L277.59,33.71 L278.75,34.07 L279.92,34.41 L281.09,34.75 L282.26,35.07 L283.44,35.39 L284.61,35.69 L285.79,35.97 L286.98,36.24 L288.16,36.50 L289.36,36.74 L290.55,36.96 L291.74,37.17 L292.94,37.37 L294.15,37.55 L295.35,37.72 L296.56,37.87 L297.76,38.02 L298.97,38.14 L300.18,38.26 L301.40,38.36 L302.61,38.45 L303.83,38.53 L305.04,38.59 L306.26,38.64 L307.48,38.68 L308.70,38.71 L309.91,38.72 L311.13,38.73 L312.35,38.72 L313.57,38.70 L314.79,38.67 L316.01,38.63 L317.22,38.58 L318.44,38.52 L319.66,38.45 L320.88,38.37 L322.09,38.28 L323.31,38.18 L324.53,38.07 L325.74,37.95 L326.96,37.82 L328.17,37.69 L329.39,37.54 L330.60,37.39 L331.81,37.22 L333.02,37.05 L334.23,36.87 L335.44,36.69 L336.65,36.49 L337.85,36.29 L339.06,36.08 L340.26,35.87 L341.47,35.64 L342.67,35.41 L343.87,35.18 L345.06,34.93 L346.26,34.69 L347.46,34.43 L348.65,34.17 L349.84,33.91 L351.03,33.64 L352.22,33.36 L353.40,33.08 L354.59,32.79 L355.77,32.50 L356.95,32.21 L358.12,31.91 L359.30,31.60 L360.47,31.29 L361.65,30.98 L362.82,30.66 L363.99,30.34 L365.16,30.02 L366.32,29.69 L367.49,29.36 L368.66,29.02 L369.82,28.68 L370.98,28.34 L372.15,27.99 L373.31,27.64 L374.47,27.28 L375.64,26.92 L376.80,26.56 L377.96,26.20 L379.12,25.83 L380.29,25.46 L381.45,25.08 L382.61,24.71 L383.78,24.33 L384.94,23.94 L386.11,23.56 L387.27,23.17 L388.44,22.78 L389.61,22.39 L390.78,21.99 L391.95,21.60 L393.12,21.21 L394.30,20.82 L395.47,20.44 L396.65,20.06 L397.83,19.69 L399.01,19.34 L400.19,18.99 L401.38,18.65 L402.57,18.33 L403.76,18.03 L404.95,17.74 L406.15,17.47 L407.35,17.22 L408.55,16.99 L409.75,16.79 L410.96,16.61 L412.17,16.45 L413.39,16.32 L414.60,16.21 L415.82,16.13 L417.04,16.08 L418.26,16.05 L419.48,16.04 L420.70,16.06 L421.92,16.10 L423.14,16.16 L424.35,16.25 L425.57,16.37 L426.78,16.50 L427.99,16.67 L429.19,16.85 L430.39,17.06 L431.59,17.29 L432.78,17.54 L433.97,17.82 L435.15,18.11 L436.32,18.44 L437.49,18.78 L438.65,19.14 L439.80,19.53 L440.94,19.94 L442.07,20.37 L443.20,20.83 L444.31,21.30 L445.42,21.80 L446.51,22.32 L447.59,22.85 L448.66,23.41 L449.72,23.99 L450.77,24.59 L451.80,25.22 L452.82,25.86 L453.83,26.52 L454.82,27.20 L455.79,27.91 L456.75,28.63 L457.70,29.37 L458.63,30.13 L459.54,30.91 L460.45,31.70 L461.33,32.51 L462.21,33.34 L463.07,34.19 L463.92,35.05 L464.76,35.92 L465.58,36.81 L466.39,37.72 L467.19,38.64 L467.98,39.57 L468.76,40.51 L469.53,41.47 L470.28,42.43 L471.03,43.41 L471.76,44.40 L472.49,45.40 L473.20,46.40 L473.91,47.42 L474.60,48.44 L475.29,49.48 L475.97,50.52 L476.64,51.56 L477.30,52.62 L477.96,53.68 L478.60,54.74 L479.24,55.81 L479.87,56.89 L480.50,57.96 L481.12,59.05 L481.73,60.13 L482.34,61.22 L482.94,62.30 L483.54,63.39 L484.13,64.49 L484.71,65.58 L485.29,66.67 L485.87,67.76 L486.44,68.85 L487.01,69.93 L487.57,71.02 L488.14,72.10 L488.69,73.18 L489.25,74.26 L489.80,75.33 L490.35,76.40 L490.90,77.47 L491.44,78.54 L491.98,79.61 L492.52,80.67 L493.05,81.74 L493.58,82.81 L494.11,83.87 L494.64,84.94 L495.16,86.01 L495.68,87.09 L496.20,88.16 L496.71,89.24 L497.22,90.32 L497.73,91.40 L498.24,92.49 L498.74,93.58 L499.24,94.67 L499.74,95.77 L500.23,96.87 L500.72,97.98 L501.21,99.09 L501.70,100.20 L502.19,101.32 L502.67,102.43 L503.15,103.55 L503.64,104.67 L504.11,105.79 L504.59,106.92 L505.07,108.04 L505.55,109.16 L506.02,110.29 L506.49,111.41 L506.97,112.54 L507.44,113.66 L507.91,114.78 L508.38,115.91 L508.86,117.03 L509.33,118.15 L509.80,119.27 L510.27,120.39 L510.74,121.52 L511.21,122.64 L511.68,123.76 L512.15,124.87 L512.62,125.99 L513.09,127.11 L513.56,128.23 L514.03,129.35 L514.50,130.47 L514.97,131.59 L515.44,132.71 L515.91,133.82 L516.38,134.94 L516.85,136.06 L517.32,137.18 L517.79,138.30 L518.27,139.42 L518.74,140.54 L519.21,141.65 L519.68,142.77 L520.16,143.89 L520.63,145.01 L521.11,146.13 L521.58,147.26 L522.06,148.38 L522.54,149.50 L523.02,150.62 L523.49,151.74 L523.97,152.86 L524.45,153.99 L524.93,155.11 L525.41,156.23 L525.89,157.35 L526.37,158.47 L526.86,159.59 L527.34,160.72 L527.82,161.84 L528.30,162.96 L528.78,164.08 L529.27,165.20 L529.75,166.31 L530.23,167.43 L530.72,168.55 L531.20,169.67 L531.69,170.78 L532.17,171.90 L532.65,173.01 L533.14,174.13 L533.63,175.24 L534.11,176.35 L534.60,177.46 L535.09,178.58 L535.57,179.69 L536.06,180.80 L536.55,181.90 L537.04,183.01 L537.54,184.12 L538.03,185.23 L538.52,186.34 L539.02,187.44 L539.51,188.55 L540.01,189.65 L540.51,190.76 L541.01,191.86 L541.51,192.96 L542.01,194.06 L542.52,195.17 L543.02,196.27 L543.53,197.37 L544.04,198.47 L544.55,199.57 L545.07,200.66 L545.58,201.76 L546.10,202.86 L546.62,203.96 L547.14,205.05 L547.66,206.15 L548.18,207.24 L548.71,208.34 L549.24,209.43 L549.77,210.53 L550.30,211.62 L550.84,212.71 L551.38,213.80 L551.92,214.89 L552.46,215.98 L553.01,217.07 L553.56,218.16 L554.11,219.25 L554.66,220.34 L555.22,221.43 L555.78,222.51 L556.34,223.60 L556.91,224.68 L557.48,225.77 L558.05,226.85 L558.63,227.93 L559.21,229.01 L559.79,230.09 L560.38,231.16 L560.97,232.24 L561.57,233.31 L562.17,234.38 L562.77,235.44 L563.37,236.51 L563.99,237.57 L564.60,238.63 L565.22,239.69 L565.84,240.74 L566.47,241.79 L567.11,242.84 L567.74,243.88 L568.39,244.92 L569.04,245.96 L569.69,246.99 L570.35,248.02 L571.01,249.05 L571.68,250.07 L572.35,251.09 L573.03,252.10 L573.71,253.11 L574.40,254.11 L575.10,255.11 L575.80,256.11 L576.51,257.10 L577.22,258.08 L577.94,259.06 L578.66,260.04 L579.39,261.01 L580.13,261.97 L580.88,262.93 L581.63,263.88 L582.38,264.83 L583.15,265.77 L583.92,266.71 L584.69,267.63 L585.48,268.56 L586.27,269.47 L587.07,270.38 L587.87,271.28 L588.68,272.18 L589.50,273.07 L590.33,273.95 L591.16,274.82 L592.01,275.69 L592.86,276.55 L593.71,277.40 L594.58,278.25 L595.45,279.08 L596.33,279.91 L597.22,280.73 L598.12,281.55 L599.02,282.35 L599.94,283.15 L600.86,283.93 L601.79,284.71 L602.73,285.48 L603.68,286.24 L604.64,287.00 L605.60,287.74 L606.58,288.47 L607.56,289.20 L608.55,289.91 L609.56,290.62 L610.57,291.31 L611.59,292.00 L612.62,292.67 L613.66,293.34 L614.71,293.99 L615.77,294.64 L616.84,295.27 L617.91,295.90 L619.00,296.51" fill="none" stroke="#000000" stroke-width="3.5" stroke-dasharray="11.1 11.98" stroke-dashoffset="-22.77"/>
</g>
<text transform="translate(56.50,357.30) scale(0.862,1)" text-anchor="middle" font-size="24.6" >18</text><text transform="translate(150.25,357.30) scale(0.862,1)" text-anchor="middle" font-size="24.6" >20</text><text transform="translate(244.00,357.30) scale(0.862,1)" text-anchor="middle" font-size="24.6" >22</text><text transform="translate(337.75,357.30) scale(0.862,1)" text-anchor="middle" font-size="24.6" >24</text><text transform="translate(431.50,357.30) scale(0.862,1)" text-anchor="middle" font-size="24.6" >26</text><text transform="translate(525.25,357.30) scale(0.862,1)" text-anchor="middle" font-size="24.6" >28</text><text transform="translate(619.00,357.30) scale(0.862,1)" text-anchor="middle" font-size="24.6" >30</text><text transform="translate(50.90,336.70) scale(0.862,1)" text-anchor="end" font-size="24.6" >0</text><text transform="translate(50.90,273.88) scale(0.862,1)" text-anchor="end" font-size="24.6" >0.2</text><text transform="translate(50.90,211.06) scale(0.862,1)" text-anchor="end" font-size="24.6" >0.4</text><text transform="translate(50.90,148.24) scale(0.862,1)" text-anchor="end" font-size="24.6" >0.6</text><text transform="translate(50.90,22.60) scale(0.862,1)" text-anchor="end" font-size="24.6" >1</text><text transform="translate(338.00,386.00) scale(0.862,1)" text-anchor="middle" font-size="24.6" >Frequency(THz)</text><text transform="translate(19,170) rotate(-90) scale(1,0.862)" text-anchor="middle" font-size="24.6">PCR</text>
</svg>
</body></html>
